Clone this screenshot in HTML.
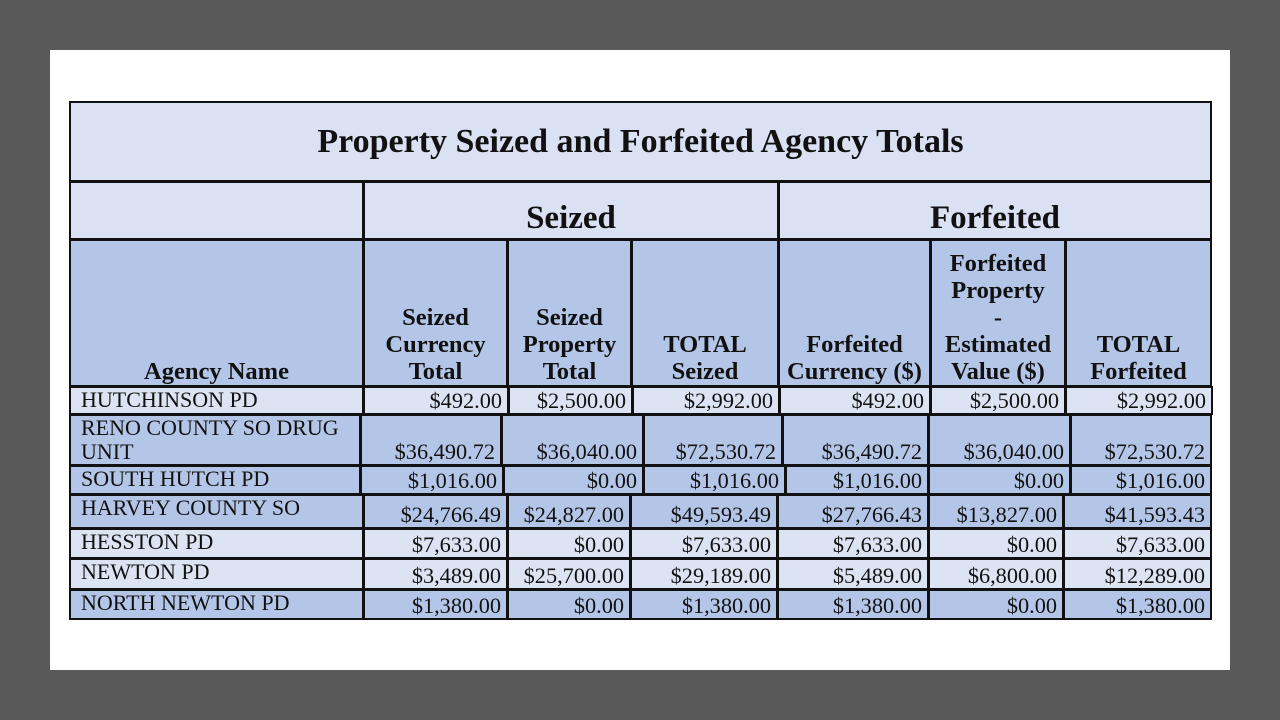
<!DOCTYPE html>
<html><head><meta charset="utf-8"><style>
body{margin:0;width:1280px;height:720px;background:#595959;font-family:"Liberation Serif","Times New Roman",serif;color:#111;overflow:hidden}
#w{position:absolute;left:50px;top:50px;width:1180px;height:620px;background:#fff}
.c{position:absolute;box-sizing:border-box;border:2px solid #111;white-space:nowrap}
.L{background:#dce3f3}.D{background:#b4c6e7}.T{background:#d9e1f2}
.h{font-weight:bold;font-size:24.5px;text-align:center;line-height:27px;display:flex;align-items:flex-end;justify-content:center}
.n{font-size:22.3px;text-align:right;padding-right:5px;display:flex;align-items:flex-end;justify-content:flex-end;line-height:25px}
.a{font-size:22px;padding-left:10px;line-height:24px}
</style></head><body><div id="w"></div>
<div class="c T" style="left:69px;top:101px;width:1143px;height:81px;font-weight:bold;font-size:34px;text-align:center;line-height:78px">Property Seized and Forfeited Agency Totals</div>
<div class="c T" style="left:69px;top:181px;width:295px;height:59px"></div>
<div class="c T" style="left:363px;top:181px;width:416px;height:59px;font-weight:bold;font-size:33px;text-align:center;line-height:70px">Seized</div>
<div class="c T" style="left:778px;top:181px;width:434px;height:59px;font-weight:bold;font-size:33px;text-align:center;line-height:70px">Forfeited</div>
<div class="c D h" style="left:69px;top:239px;width:295px;height:148px">Agency Name</div>
<div class="c D h" style="left:363px;top:239px;width:145px;height:148px">Seized<br>Currency<br>Total</div>
<div class="c D h" style="left:507px;top:239px;width:125px;height:148px">Seized<br>Property<br>Total</div>
<div class="c D h" style="left:631px;top:239px;width:148px;height:148px">TOTAL<br>Seized</div>
<div class="c D h" style="left:778px;top:239px;width:153px;height:148px">Forfeited<br>Currency ($)</div>
<div class="c D h" style="left:930px;top:239px;width:136px;height:148px;line-height:27px">Forfeited<br>Property<br>-<br>Estimated<br>Value ($)</div>
<div class="c D h" style="left:1065px;top:239px;width:147px;height:148px">TOTAL<br>Forfeited</div>

<div class="c L a" style="left:69px;top:386px;width:295px;height:29px">HUTCHINSON PD</div>
<div class="c L n" style="left:363px;top:386px;width:146px;height:29px">$492.00</div>
<div class="c L n" style="left:508px;top:386px;width:125px;height:29px">$2,500.00</div>
<div class="c L n" style="left:632px;top:386px;width:148px;height:29px">$2,992.00</div>
<div class="c L n" style="left:779px;top:386px;width:152px;height:29px">$492.00</div>
<div class="c L n" style="left:930px;top:386px;width:136px;height:29px">$2,500.00</div>
<div class="c L n" style="left:1065px;top:386px;width:148px;height:29px">$2,992.00</div>

<div class="c D a" style="left:69px;top:414px;width:292px;height:52px">RENO COUNTY SO DRUG<br>UNIT</div>
<div class="c D n" style="left:360px;top:414px;width:142px;height:52px">$36,490.72</div>
<div class="c D n" style="left:501px;top:414px;width:143px;height:52px">$36,040.00</div>
<div class="c D n" style="left:643px;top:414px;width:140px;height:52px">$72,530.72</div>
<div class="c D n" style="left:782px;top:414px;width:147px;height:52px">$36,490.72</div>
<div class="c D n" style="left:928px;top:414px;width:143px;height:52px">$36,040.00</div>
<div class="c D n" style="left:1070px;top:414px;width:142px;height:52px">$72,530.72</div>

<div class="c D a" style="left:69px;top:465px;width:292px;height:30px">SOUTH HUTCH PD</div>
<div class="c D n" style="left:360px;top:465px;width:144px;height:30px">$1,016.00</div>
<div class="c D n" style="left:503px;top:465px;width:141px;height:30px">$0.00</div>
<div class="c D n" style="left:643px;top:465px;width:143px;height:30px">$1,016.00</div>
<div class="c D n" style="left:785px;top:465px;width:144px;height:30px">$1,016.00</div>
<div class="c D n" style="left:928px;top:465px;width:143px;height:30px">$0.00</div>
<div class="c D n" style="left:1070px;top:465px;width:142px;height:30px">$1,016.00</div>

<div class="c D a" style="left:69px;top:494px;width:295px;height:35px">HARVEY COUNTY SO</div>
<div class="c D n" style="left:363px;top:494px;width:145px;height:35px">$24,766.49</div>
<div class="c D n" style="left:507px;top:494px;width:124px;height:35px">$24,827.00</div>
<div class="c D n" style="left:630px;top:494px;width:148px;height:35px">$49,593.49</div>
<div class="c D n" style="left:777px;top:494px;width:152px;height:35px">$27,766.43</div>
<div class="c D n" style="left:928px;top:494px;width:136px;height:35px">$13,827.00</div>
<div class="c D n" style="left:1063px;top:494px;width:149px;height:35px">$41,593.43</div>

<div class="c L a" style="left:69px;top:528px;width:295px;height:31px">HESSTON PD</div>
<div class="c L n" style="left:363px;top:528px;width:145px;height:31px">$7,633.00</div>
<div class="c L n" style="left:507px;top:528px;width:124px;height:31px">$0.00</div>
<div class="c L n" style="left:630px;top:528px;width:148px;height:31px">$7,633.00</div>
<div class="c L n" style="left:777px;top:528px;width:152px;height:31px">$7,633.00</div>
<div class="c L n" style="left:928px;top:528px;width:136px;height:31px">$0.00</div>
<div class="c L n" style="left:1063px;top:528px;width:149px;height:31px">$7,633.00</div>

<div class="c L a" style="left:69px;top:558px;width:295px;height:32px">NEWTON PD</div>
<div class="c L n" style="left:363px;top:558px;width:145px;height:32px">$3,489.00</div>
<div class="c L n" style="left:507px;top:558px;width:124px;height:32px">$25,700.00</div>
<div class="c L n" style="left:630px;top:558px;width:148px;height:32px">$29,189.00</div>
<div class="c L n" style="left:777px;top:558px;width:152px;height:32px">$5,489.00</div>
<div class="c L n" style="left:928px;top:558px;width:136px;height:32px">$6,800.00</div>
<div class="c L n" style="left:1063px;top:558px;width:149px;height:32px">$12,289.00</div>

<div class="c D a" style="left:69px;top:589px;width:295px;height:31px">NORTH NEWTON PD</div>
<div class="c D n" style="left:363px;top:589px;width:145px;height:31px">$1,380.00</div>
<div class="c D n" style="left:507px;top:589px;width:124px;height:31px">$0.00</div>
<div class="c D n" style="left:630px;top:589px;width:148px;height:31px">$1,380.00</div>
<div class="c D n" style="left:777px;top:589px;width:152px;height:31px">$1,380.00</div>
<div class="c D n" style="left:928px;top:589px;width:136px;height:31px">$0.00</div>
<div class="c D n" style="left:1063px;top:589px;width:149px;height:31px">$1,380.00</div>
</body></html>
